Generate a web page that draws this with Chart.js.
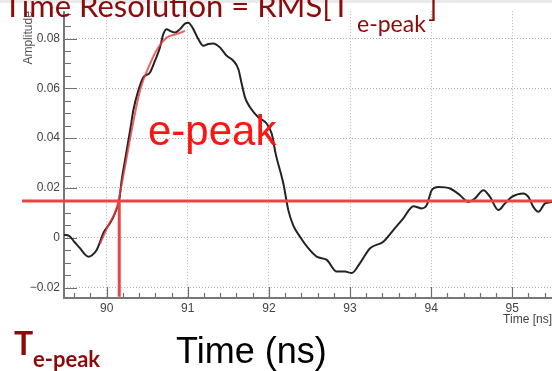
<!DOCTYPE html>
<html>
<head>
<meta charset="utf-8">
<script src="https://cdn.jsdelivr.net/npm/chart.js@4/dist/chart.umd.min.js"></script>
<style>
html,body{margin:0;padding:0;background:#fff;}
#wrap{position:relative;width:552px;height:371px;overflow:hidden;}
canvas{display:block;}
</style>
</head>
<body>
<div id="wrap"><canvas id="c" width="552" height="371"></canvas></div>
<script>
// ---- data ----
const timeNs = [89.465, 89.507, 89.550, 89.600, 89.671, 89.730, 89.773, 89.820, 89.877, 89.920,
  89.958, 90.000, 90.041, 90.102, 90.155, 90.185, 90.226, 90.293, 90.328, 90.390,
  90.451, 90.534, 90.596, 90.657, 90.698, 90.740, 90.781, 90.842, 90.904, 90.965,
  91.006, 91.068, 91.129, 91.191, 91.253, 91.314, 91.397, 91.480, 91.561, 91.623,
  91.665, 91.705, 91.767, 91.869, 91.973, 92.035, 92.083, 92.178, 92.239, 92.300,
  92.383, 92.480, 92.589, 92.713, 92.836, 92.938, 93.021, 93.123, 93.247, 93.411,
  93.534, 93.657, 93.781, 93.884, 93.946, 94.007, 94.089, 94.233, 94.356, 94.459,
  94.541, 94.644, 94.726, 94.829, 94.911, 94.994, 95.137, 95.199, 95.260, 95.322,
  95.404, 95.490];
const amplitude = [0.0011, 0.0011, 0.0004, -0.0016, -0.0042, -0.0066, -0.0076, -0.0070, -0.0049, -0.0015,
  0.0018, 0.0040, 0.0058, 0.0098, 0.0151, 0.0231, 0.0311, 0.0439, 0.0511, 0.0591,
  0.0644, 0.0664, 0.0711, 0.0764, 0.0818, 0.0838, 0.0831, 0.0824, 0.0838, 0.0860,
  0.0864, 0.0838, 0.0798, 0.0771, 0.0778, 0.0780, 0.0764, 0.0731, 0.0711, 0.0678,
  0.0618, 0.0564, 0.0524, 0.0484, 0.0458, 0.0418, 0.0338, 0.0218, 0.0111, 0.0050,
  0.0004, -0.0040, -0.0076, -0.0089, -0.0136, -0.0136, -0.0142, -0.0102, -0.0042, -0.0016,
  0.0031, 0.0078, 0.0127, 0.0118, 0.0131, 0.0191, 0.0204, 0.0198, 0.0171, 0.0144,
  0.0158, 0.0191, 0.0164, 0.0111, 0.0138, 0.0164, 0.0178, 0.0164, 0.0124, 0.0104,
  0.0138, 0.0144];
const fitTimeNs = [89.917, 90.016, 90.123, 90.200, 90.308, 90.411, 90.534, 90.636, 90.740, 90.863, 90.965];
const fitAmplitude = [-0.0025, 0.0047, 0.0119, 0.0240, 0.0431, 0.0591, 0.0698, 0.0764, 0.0804, 0.0818, 0.0831];
const thresholdTimeNs = [88.956, 95.6];
const thresholdAmplitude = [0.0148, 0.0148];
const crossingTimeNs = [90.155, 90.155];
const crossingAmplitude = [0.0148, -0.0237];
const xTickValues = [90, 91, 92, 93, 94, 95];
const yTickValues = [-0.02, 0, 0.02, 0.04, 0.06, 0.08];

const pts = (xs, ys) => xs.map((x, i) => ({x: x, y: ys[i]}));

const AXIS = {xMin: 89.474, xMax: 95.49, yMin: -0.0242, yMax: 0.091};

const framePlugin = {
  id: 'frame',
  beforeDraw(chart) {
    const ctx = chart.ctx;
    ctx.save();
    ctx.fillStyle = '#e9e9e9';
    ctx.fillRect(0, 0, chart.width, 3);
    ctx.restore();
  },
  beforeDatasetsDraw(chart) {
    const {ctx, chartArea: a, scales: {x, y}} = chart;
    ctx.save();
    ctx.strokeStyle = '#6e6e6e';
    ctx.lineWidth = 1.2;
    ctx.beginPath();
    // inward y ticks every 0.005
    for (let k = -4; k <= 18; k++) {
      const v = k * 0.005;
      const py = Math.round(y.getPixelForValue(v)) + 0.5;
      if (py < a.top - 1 || py > a.bottom) continue;
      const len = (k % 4 === 0) ? 13 : 7;
      ctx.moveTo(a.left, py); ctx.lineTo(a.left + len, py);
    }
    // inward x ticks every 0.2
    for (let k = 447; k <= 478; k++) {
      const v = k * 0.2;
      const px = Math.round(x.getPixelForValue(v)) + 0.5;
      if (px < a.left || px > a.right) continue;
      const len = (k % 5 === 0) ? 11 : 5;
      ctx.moveTo(px, a.bottom); ctx.lineTo(px, a.bottom - len);
    }
    ctx.stroke();
    ctx.lineWidth = 2;
    ctx.strokeStyle = '#777';
    ctx.beginPath();
    ctx.moveTo(a.left, a.top); ctx.lineTo(a.left, a.bottom); ctx.lineTo(a.right, a.bottom);
    ctx.stroke();
    ctx.restore();
  },
  afterDraw(chart) {
    const ctx = chart.ctx;
    ctx.save();
    ctx.textBaseline = 'alphabetic';
    // label inside the plot
    ctx.fillStyle = '#ff1414';
    ctx.font = '42px "Liberation Sans", Arial, sans-serif';
    ctx.textAlign = 'left';
    ctx.fillText('e-peak', 148, 145);
    // title
    const dark = '#8c0a0a';
    ctx.fillStyle = dark;
    ctx.font = '31px Lato, sans-serif';
    ctx.textAlign = 'right';
    ctx.fillText('Time Resolution = RMS[T', 350, 17);
    ctx.textAlign = 'left';
    ctx.font = '23px Lato, sans-serif';
    ctx.fillText('e-peak', 357, 31.5);
    ctx.font = '31px Lato, sans-serif';
    ctx.fillText(']', 428, 17);
    // bottom-left T_e-peak
    ctx.font = 'bold 32px Lato, sans-serif';
    ctx.fillText('T', 14, 355);
    ctx.font = 'bold 22px Lato, sans-serif';
    ctx.fillText('e-peak', 33, 366.5);
    // axis caption
    ctx.fillStyle = '#000';
    ctx.font = '36px "Liberation Sans", Arial, sans-serif';
    ctx.fillText('Time (ns)', 176, 363);
    ctx.restore();
  }
};

new Chart(document.getElementById('c'), {
  type: 'scatter',
  data: {
    datasets: [
      {label: 'threshold', data: pts(thresholdTimeNs, thresholdAmplitude), showLine: true,
       borderColor: '#ec4444', borderWidth: 3, pointRadius: 0, clip: false, order: 0},
      {label: 'crossing', data: pts(crossingTimeNs, crossingAmplitude), showLine: true,
       borderColor: '#ec4444', borderWidth: 3, pointRadius: 0, clip: false, order: 1},
      {label: 'fit', data: pts(fitTimeNs, fitAmplitude), showLine: true,
       borderColor: 'rgba(232,60,60,0.8)', borderWidth: 2, pointRadius: 0,
       cubicInterpolationMode: 'monotone', order: 2},
      {label: 'signal', data: pts(timeNs, amplitude), showLine: true,
       borderColor: '#232323', borderWidth: 2, pointRadius: 0,
       cubicInterpolationMode: 'monotone', order: 3}
    ]
  },
  options: {
    responsive: false,
    animation: false,
    devicePixelRatio: 1,
    layout: {padding: {top: 10, right: 0, left: 0, bottom: 0}},
    plugins: {legend: {display: false}, tooltip: {enabled: false}},
    scales: {
      x: {
        type: 'linear', min: AXIS.xMin, max: AXIS.xMax,
        afterBuildTicks: s => { s.ticks = xTickValues.map(v => ({value: v})); },
        afterFit: s => { s.height = 73; },
        ticks: {color: '#444', font: {family: '"Liberation Sans", Arial, sans-serif', size: 12}, padding: 3,
                callback: v => String(v), maxRotation: 0, autoSkip: false},
        grid: {color: '#b4b4b4', lineWidth: 1, drawTicks: false},
        border: {display: false, dash: [1, 2]},
        title: {display: true, text: 'Time [ns]', align: 'end', color: '#444',
                font: {family: '"Liberation Sans", Arial, sans-serif', size: 12}, padding: {top: 0, bottom: 44}}
      },
      y: {
        type: 'linear', min: AXIS.yMin, max: AXIS.yMax,
        afterBuildTicks: s => { s.ticks = yTickValues.map(v => ({value: v})); },
        afterFit: s => { s.width = 64; },
        ticks: {color: '#444', font: {family: '"Liberation Sans", Arial, sans-serif', size: 12}, padding: 4,
                callback: v => Math.abs(v) < 1e-9 ? '0' : (v < 0 ? '\u2212' : '') + Math.abs(v).toFixed(2)},
        grid: {color: '#b4b4b4', lineWidth: 1, drawTicks: false},
        border: {display: false, dash: [1, 2]},
        title: {display: true, text: 'Amplitude', align: 'end', color: '#555',
                font: {family: '"Liberation Sans", Arial, sans-serif', size: 12}, padding: {top: 21, bottom: 0}}
      }
    }
  },
  plugins: [framePlugin]
});
</script>
</body>
</html>
